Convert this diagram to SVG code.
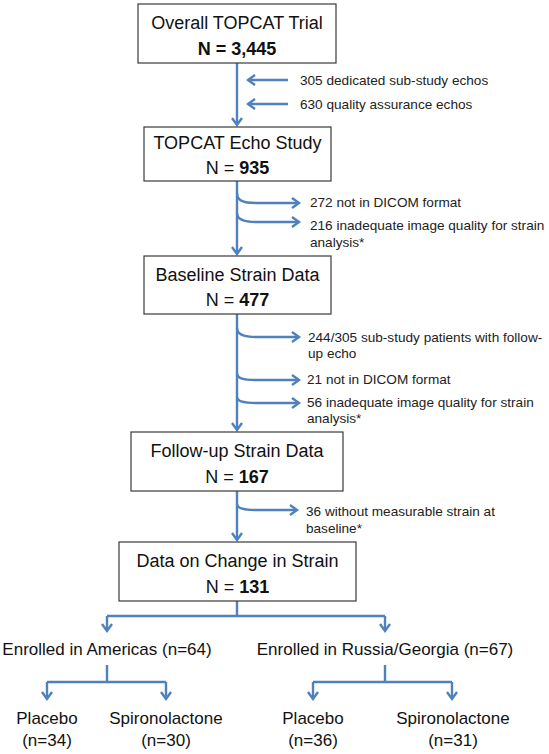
<svg xmlns="http://www.w3.org/2000/svg" width="549" height="754" viewBox="0 0 549 754">
<defs>
<marker id="ah" markerUnits="userSpaceOnUse" markerWidth="12" markerHeight="14" refX="8" refY="6" orient="auto" viewBox="0 0 12 12">
<path d="M1,1 L8,6 L1,11" fill="none" stroke="#4F81BD" stroke-width="2.4" stroke-linejoin="miter"/>
</marker>
</defs>
<style>
.box{fill:#fff;stroke:#3a3a3a;stroke-width:1.2}
.t{font-family:"Liberation Sans",Arial,sans-serif;font-size:18px;fill:#111;text-anchor:middle}
.b{font-weight:bold}
.n{font-family:"Liberation Sans",Arial,sans-serif;font-size:13.6px;fill:#222}
.l{font-family:"Liberation Sans",Arial,sans-serif;font-size:17px;fill:#111;text-anchor:middle}
.c{fill:none;stroke:#4F81BD;stroke-width:2.4}
.a{marker-end:url(#ah)}
</style>
<rect width="549" height="754" fill="#fff"/>
<g id="connectors">
<path class="c a" d="M237,63 L237,125"/>
<path class="c a" d="M288,80 L248,80"/>
<path class="c a" d="M288,104 L248,104"/>
<path class="c a" d="M237,181 L237,254"/>
<path class="c a" d="M237,193 C237,200 242,203 256,203 L299,203"/>
<path class="c a" d="M237,213 C237,219 242,222 256,222 L299,222"/>
<path class="c a" d="M237,314 L237,430"/>
<path class="c a" d="M237,328 C237,334 242,337 256,337 L299,337"/>
<path class="c a" d="M237,373 C237,378 242,380 256,380 L299,380"/>
<path class="c a" d="M237,397 C237,401 242,403 256,403 L299,403"/>
<path class="c a" d="M237,491 L237,540"/>
<path class="c a" d="M237,504 C237,508 242,510 256,510 L297,510"/>
<path class="c" d="M237,601 L237,616 M107,616 L385,616"/>
<path class="c a" d="M107,616 L107,631"/>
<path class="c a" d="M385,616 L385,631"/>
<path class="c" d="M107,665 L107,682 M47,682 L166,682"/>
<path class="c a" d="M47,682 L47,699"/>
<path class="c a" d="M166,682 L166,699"/>
<path class="c" d="M385,665 L385,682 M313,682 L452,682"/>
<path class="c a" d="M313,682 L313,699"/>
<path class="c a" d="M452,682 L452,699"/>
</g>
<g id="node-overall">
<rect class="box" x="138" y="4" width="198" height="59"/>
<text class="t" x="237" y="29">Overall TOPCAT Trial</text>
<text class="t b" x="237" y="55">N = 3,445</text>
</g>
<g id="node-echo">
<rect class="box" x="144" y="127" width="187" height="54"/>
<text class="t" x="237.5" y="149">TOPCAT Echo Study</text>
<text class="t" x="237.5" y="174">N = <tspan class="b">935</tspan></text>
</g>
<g id="node-baseline">
<rect class="box" x="144" y="256" width="187" height="58"/>
<text class="t" x="237.5" y="281">Baseline Strain Data</text>
<text class="t" x="237.5" y="306">N = <tspan class="b">477</tspan></text>
</g>
<g id="node-followup">
<rect class="box" x="131" y="432" width="212" height="59"/>
<text class="t" x="237" y="457">Follow-up Strain Data</text>
<text class="t" x="237" y="483">N = <tspan class="b">167</tspan></text>
</g>
<g id="node-change">
<rect class="box" x="119" y="542" width="237" height="59"/>
<text class="t" x="237.5" y="567">Data on Change in Strain</text>
<text class="t" x="237.5" y="593">N = <tspan class="b">131</tspan></text>
</g>
<g id="notes">
<text class="n" x="300" y="85">305 dedicated sub-study echos</text>
<text class="n" x="300" y="109">630 quality assurance echos</text>
<text class="n" x="310" y="207">272 not in DICOM format</text>
<text class="n" x="310" y="230">216 inadequate image quality for strain</text>
<text class="n" x="310" y="247">analysis*</text>
<text class="n" x="308" y="342">244/305 sub-study patients with follow-</text>
<text class="n" x="308" y="358">up echo</text>
<text class="n" x="307" y="384">21 not in DICOM format</text>
<text class="n" x="307" y="407">56 inadequate image quality for strain</text>
<text class="n" x="307" y="423">analysis*</text>
<text class="n" x="306" y="516">36 without measurable strain at</text>
<text class="n" x="306" y="533">baseline*</text>
</g>
<g id="node-americas"><text class="l" x="107" y="655">Enrolled in Americas (n=64)</text></g>
<g id="node-russia"><text class="l" x="385" y="655">Enrolled in Russia/Georgia (n=67)</text></g>
<g id="node-am-placebo"><text class="l" x="47" y="724">Placebo</text><text class="l" x="47" y="746">(n=34)</text></g>
<g id="node-am-spiro"><text class="l" x="166" y="724">Spironolactone</text><text class="l" x="166" y="746">(n=30)</text></g>
<g id="node-ru-placebo"><text class="l" x="313" y="724">Placebo</text><text class="l" x="313" y="746">(n=36)</text></g>
<g id="node-ru-spiro"><text class="l" x="453" y="724">Spironolactone</text><text class="l" x="453" y="746">(n=31)</text></g>
</svg>
